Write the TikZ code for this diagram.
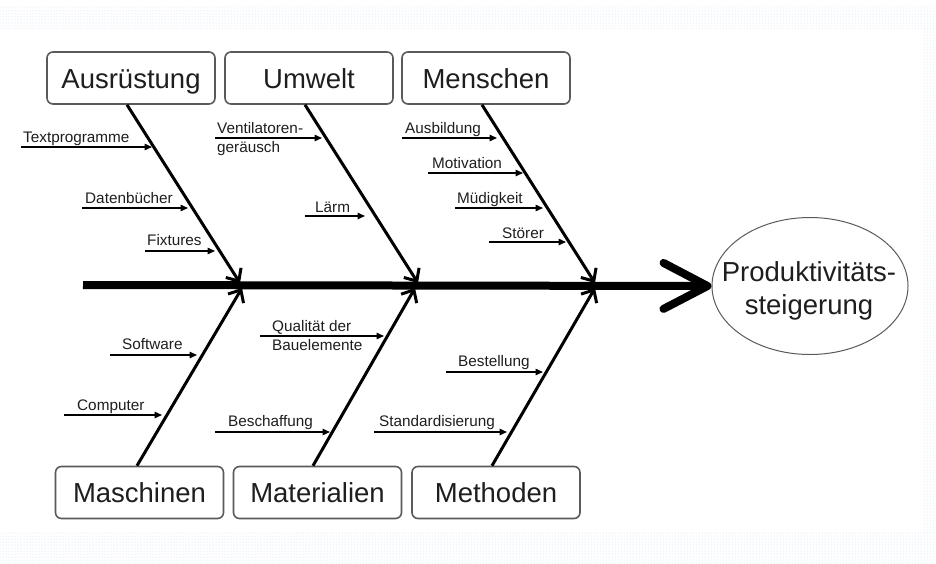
\documentclass[tikz,border=0pt]{standalone}
\usepackage{fontspec}
\setmainfont{Liberation Sans}
\usetikzlibrary{arrows.meta,shapes.geometric,calc,patterns}
\definecolor{ink}{HTML}{1E1E1E}
\definecolor{boxline}{HTML}{5A5A5A}
\definecolor{dotblue}{HTML}{C9DCEE}

\begin{document}
\begin{tikzpicture}[x=1pt,y=-1pt,
  cat/.style={draw=boxline, line width=1.6pt, rounded corners=6pt,
    minimum width=168pt, minimum height=52pt, inner sep=0pt,
    text height=24pt, text depth=4pt,
    font=\fontsize{27.5}{32}\selectfont, text=ink},
  goal/.style={ellipse, draw=boxline, line width=1pt, minimum width=196pt,
    minimum height=137pt, inner sep=0pt},
  goaltext/.style={align=center, inner sep=0pt,
    font=\fontsize{27.5}{33}\selectfont, text=ink},
  bone/.style={line width=3pt, -{Straight Barb[length=10pt,width=18pt]}},
  twig/.style={line width=1.4pt, -{Triangle[length=7.5pt,width=6.5pt]}},
  lbl/.style={font=\fontsize{15.3}{19}\selectfont, text=ink, inner sep=0pt,
    anchor=base west},
  lbltwo/.style={font=\fontsize{15.3}{19}\selectfont, text=ink, inner sep=0pt,
    anchor=west, align=left},
  spine/.style={line width=8pt, -{Straight Barb[length=44pt,width=46pt,round]}},
  band/.style={pattern=dots, pattern color=dotblue, draw=none}
]
% page and its dotted frame
\useasboundingbox (0,0) rectangle (936,563);
\fill[white] (0,0) rectangle (936,563);
\path[band] (0,5) rectangle (936,28);
\path[band] (922,28) rectangle (936,532);
\path[band] (0,532) rectangle (936,563);

% cause categories
\node[cat] (aus) at (131,78) {Ausrüstung};
\node[cat] (umw) at (309,78) {Umwelt};
\node[cat] (men) at (486,78) {Menschen};
\node[cat] (mas) at (139.5,492.5) {Maschinen};
\node[cat] (mat) at (317.5,492.5) {Materialien};
\node[cat] (met) at (496,492.5) {Methoden};

% effect
\node[goal] (eff) at (810,286) {};
\node[goaltext] (efftxt) at (809,291) {Produktivitäts-\\steigerung};

% spine
\coordinate (tail) at (83,285);
\draw[spine] (tail) -- (eff.west);

% main bones
\coordinate (j1t) at (240,283);
\coordinate (j2t) at (418,283);
\coordinate (j3t) at (595,283);
\coordinate (j1b) at (242,288);
\coordinate (j2b) at (415,288);
\coordinate (j3b) at (595,288);
\draw[bone] ($(aus.south)+(-4,0)$) -- (j1t);
\draw[bone] ($(umw.south)+(-4,0)$) -- (j2t);
\draw[bone] ($(men.south)+(-4,0)$) -- (j3t);
\draw[bone] ($(mas.north)+(-2.5,0)$) -- (j1b);
\draw[bone] ($(mat.north)+(-4.5,0)$) -- (j2b);
\draw[bone] ($(met.north)+(-4,0)$) -- (j3b);

% Ausrüstung
\node[lbl] (t1) at (23,142) {Textprogramme};
\node[lbl] (t2) at (85,203) {Datenbücher};
\node[lbl] (t3) at (147,245.5) {Fixtures};
\coordinate (a1s) at (21,147);  \coordinate (a1e) at (152,147);
\coordinate (a2s) at (82,208);  \coordinate (a2e) at (188,208);
\coordinate (a3s) at (145,251); \coordinate (a3e) at (215,251);
\draw[twig] (a1s) -- (a1e);
\draw[twig] (a2s) -- (a2e);
\draw[twig] (a3s) -- (a3e);

% Umwelt
\node[lbltwo] (t4) at (217,139) {Ventilatoren-\\geräusch};
\node[lbl] (t5) at (315,212) {Lärm};
\coordinate (u1s) at (215,138); \coordinate (u1e) at (322,138);
\coordinate (u2s) at (305,216); \coordinate (u2e) at (365,216);
\draw[twig] (u1s) -- (u1e);
\draw[twig] (u2s) -- (u2e);

% Menschen
\node[lbl] (t6) at (405,133) {Ausbildung};
\node[lbl] (t7) at (432,168) {Motivation};
\node[lbl] (t8) at (457,203) {Müdigkeit};
\node[lbl] (t9) at (502,238) {Störer};
\coordinate (m1s) at (402,138); \coordinate (m1e) at (497,138);
\coordinate (m2s) at (428,173); \coordinate (m2e) at (523,173);
\coordinate (m3s) at (455,208); \coordinate (m3e) at (543,208);
\coordinate (m4s) at (489,242); \coordinate (m4e) at (566,242);
\draw[twig] (m1s) -- (m1e);
\draw[twig] (m2s) -- (m2e);
\draw[twig] (m3s) -- (m3e);
\draw[twig] (m4s) -- (m4e);

% Maschinen
\node[lbl] (t10) at (122,349) {Software};
\node[lbl] (t11) at (77,410) {Computer};
\coordinate (c1s) at (110,355); \coordinate (c1e) at (197,355);
\coordinate (c2s) at (64,415);  \coordinate (c2e) at (162,415);
\draw[twig] (c1s) -- (c1e);
\draw[twig] (c2s) -- (c2e);

% Materialien
\node[lbltwo] (t12) at (272,335.5) {Qualität der\\Bauelemente};
\node[lbl] (t13) at (228,426) {Beschaffung};
\coordinate (r1s) at (260,336); \coordinate (r1e) at (384,336);
\coordinate (r2s) at (215,432); \coordinate (r2e) at (330,432);
\draw[twig] (r1s) -- (r1e);
\draw[twig] (r2s) -- (r2e);

% Methoden
\node[lbl] (t14) at (458,366) {Bestellung};
\node[lbl] (t15) at (379,426) {Standardisierung};
\coordinate (h1s) at (446,372); \coordinate (h1e) at (543,372);
\coordinate (h2s) at (374,432); \coordinate (h2e) at (507,432);
\draw[twig] (h1s) -- (h1e);
\draw[twig] (h2s) -- (h2e);
\end{tikzpicture}
\end{document}
